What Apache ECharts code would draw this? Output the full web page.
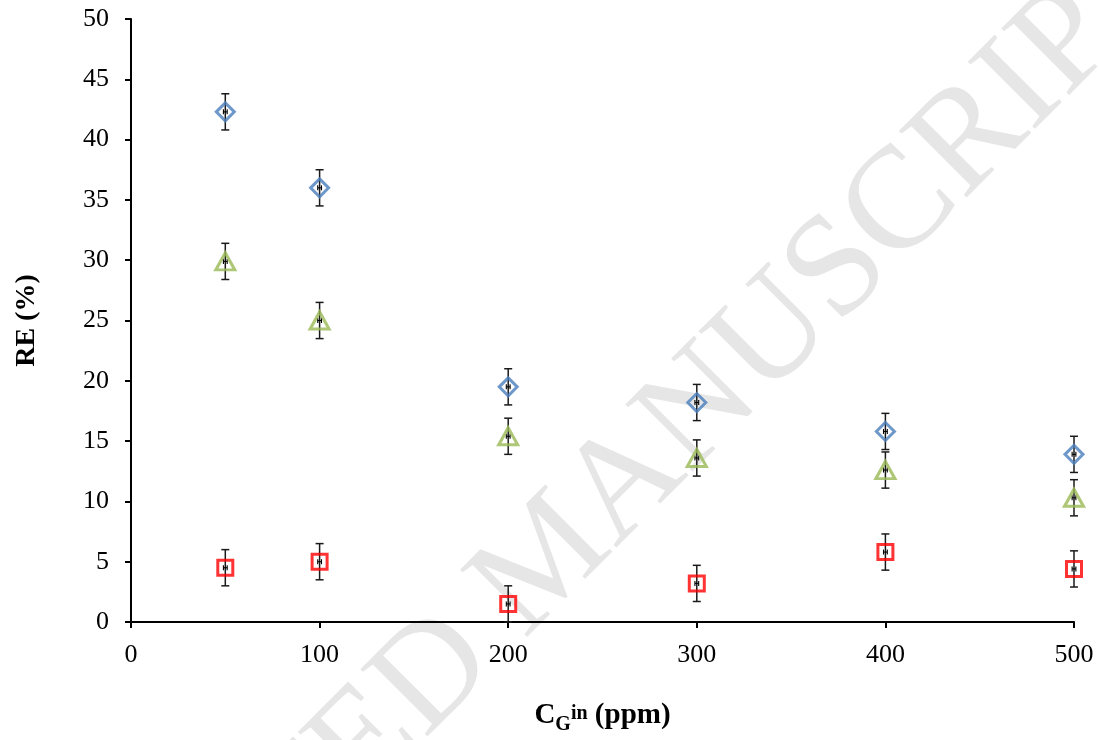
<!DOCTYPE html>
<html>
<head>
<meta charset="utf-8">
<script src="https://cdn.jsdelivr.net/npm/echarts@6/dist/echarts.min.js"></script>
<style>html,body{margin:0;padding:0;background:#fff;overflow:hidden}#c{position:absolute;left:0;top:0;width:1099px;height:740px}</style>
</head>
<body>
<div id="c"></div>
<script>
var xValues = [50, 100, 200, 300, 400, 500];
var blueValues = [42.3, 36.0, 19.5, 18.2, 15.8, 13.9];
var greenValues = [29.9, 25.0, 15.4, 13.6, 12.6, 10.3];
var redValues = [4.5, 5.0, 1.5, 3.2, 5.8, 4.4];
var blueErr = [1.5, 1.5, 1.5, 1.5, 1.5, 1.5];
var greenErr = [1.5, 1.5, 1.5, 1.5, 1.5, 1.5];
var redErr = [1.5, 1.5, 1.5, 1.5, 1.5, 1.5];
var xErr = 1;
var yTicks = [0, 5, 10, 15, 20, 25, 30, 35, 40, 45, 50];
var xTicks = [0, 100, 200, 300, 400, 500];
var watermark = 'ACCEPTED MANUSCRIPT';

var FONT = '"Liberation Serif", "Times New Roman", serif';

function pts(vals) { return xValues.map(function (x, i) { return [x, vals[i]]; }); }
function errData(vals, errs) { return xValues.map(function (x, i) { return [x, vals[i], errs[i]]; }); }

function renderErr(params, api) {
  var x = api.value(0), y = api.value(1), e = api.value(2);
  var top = api.coord([x, y + e]);
  var bot = api.coord([x, y - e]);
  var c = api.coord([x, y]);
  var l = api.coord([x - xErr, y]);
  var r = api.coord([x + xErr, y]);
  var cap = 4;
  var st = { stroke: '#1a1a1a', lineWidth: 1.5 };
  var hs = { stroke: '#000', lineWidth: 1.1 };
  return {
    type: 'group',
    children: [
      { type: 'line', shape: { x1: top[0], y1: top[1], x2: bot[0], y2: bot[1] }, style: st },
      { type: 'line', shape: { x1: top[0] - cap, y1: top[1], x2: top[0] + cap, y2: top[1] }, style: st },
      { type: 'line', shape: { x1: bot[0] - cap, y1: bot[1], x2: bot[0] + cap, y2: bot[1] }, style: st },
      { type: 'line', shape: { x1: l[0], y1: c[1], x2: r[0], y2: c[1] }, style: hs },
      { type: 'line', shape: { x1: l[0], y1: c[1] - 2.5, x2: l[0], y2: c[1] + 2.5 }, style: hs },
      { type: 'line', shape: { x1: r[0], y1: c[1] - 2.5, x2: r[0], y2: c[1] + 2.5 }, style: hs }
    ]
  };
}

var chart = echarts.init(document.getElementById('c'), null, { renderer: 'canvas' });
chart.setOption({
  animation: false,
  backgroundColor: '#fff',
  graphic: [{
    type: 'text',
    z: -10,
    silent: true,
    x: 550, y: 560,
    rotation: Math.PI / 4,
    style: {
      text: watermark,
      font: '145px ' + FONT,
      fill: '#e6e6e6',
      textAlign: 'center',
      textVerticalAlign: 'middle'
    }
  }],
  grid: { left: 131, width: 943, top: 19, height: 604, containLabel: false },
  xAxis: {
    type: 'value', min: 0, max: 500, interval: 100,
    axisLine: { show: true, lineStyle: { color: '#000', width: 2 } },
    axisTick: { show: true, inside: false, length: 6, lineStyle: { color: '#000', width: 2 } },
    axisLabel: { color: '#000', fontFamily: FONT, fontSize: 26, margin: 20,
      formatter: function (v) { return xTicks.indexOf(v) >= 0 ? String(v) : ''; } },
    splitLine: { show: false },
    name: '{b|C}{sub|G}{sup|in}{b| (ppm)}',
    nameLocation: 'middle',
    nameGap: 79,
    nameTextStyle: {
      rich: {
        b: { fontFamily: FONT, fontWeight: 'bold', fontSize: 29, color: '#000', verticalAlign: 'top', lineHeight: 34 },
        sub: { fontFamily: FONT, fontWeight: 'bold', fontSize: 20, color: '#000', verticalAlign: 'bottom', lineHeight: 20, padding: [16, 0, 0, 0] },
        sup: { fontFamily: FONT, fontWeight: 'bold', fontSize: 20, color: '#000', verticalAlign: 'top', lineHeight: 20, padding: [3, 0, 0, 0] }
      }
    }
  },
  yAxis: {
    type: 'value', min: 0, max: 50, interval: 5,
    axisLine: { show: true, lineStyle: { color: '#000', width: 2 } },
    axisTick: { show: true, inside: false, length: 6, lineStyle: { color: '#000', width: 2 } },
    axisLabel: { color: '#000', fontFamily: FONT, fontSize: 26, margin: 22,
      formatter: function (v) { return yTicks.indexOf(v) >= 0 ? String(v) : ''; } },
    splitLine: { show: false },
    name: 'RE (%)',
    nameLocation: 'middle',
    nameGap: 90,
    nameTextStyle: { fontFamily: FONT, fontWeight: 'bold', fontSize: 28, color: '#000' }
  },
  series: [
    { type: 'custom', name: 'errBlue', renderItem: renderErr, data: errData(blueValues, blueErr), z: 3, encode: { x: 0, y: 1 } },
    { type: 'custom', name: 'errGreen', renderItem: renderErr, data: errData(greenValues, greenErr), z: 3, encode: { x: 0, y: 1 } },
    { type: 'custom', name: 'errRed', renderItem: renderErr, data: errData(redValues, redErr), z: 3, encode: { x: 0, y: 1 } },
    { type: 'scatter', name: 'blue', data: pts(blueValues), symbol: 'diamond', symbolSize: [18, 18],
      itemStyle: { color: 'rgba(0,0,0,0)', borderColor: '#4a7ebb', borderWidth: 3 }, z: 4 },
    { type: 'scatter', name: 'green', data: pts(greenValues), symbol: 'triangle', symbolSize: [19, 17],
      itemStyle: { color: 'rgba(0,0,0,0)', borderColor: '#98b954', borderWidth: 3 }, z: 4 },
    { type: 'scatter', name: 'red', data: pts(redValues), symbol: 'rect', symbolSize: [15, 15],
      itemStyle: { color: 'rgba(0,0,0,0)', borderColor: '#ff0000', borderWidth: 3 }, z: 4 }
  ]
});
</script>
</body>
</html>
